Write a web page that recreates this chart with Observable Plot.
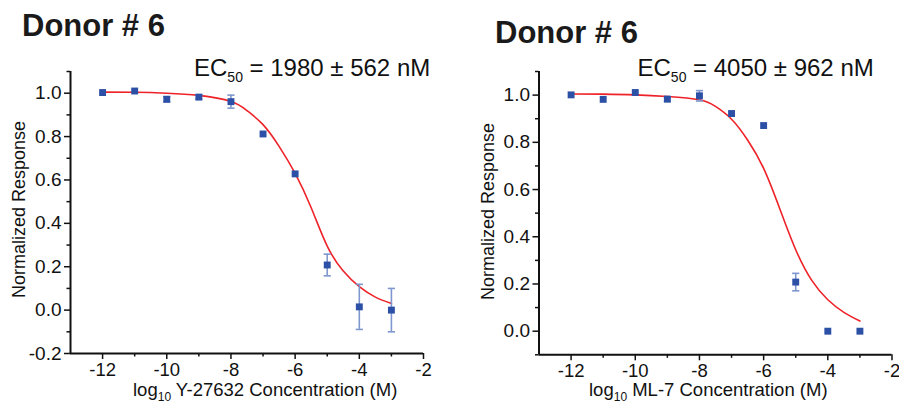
<!DOCTYPE html>
<html>
<head>
<meta charset="utf-8">
<script src="https://cdn.jsdelivr.net/npm/d3@7"></script>
<script src="https://cdn.jsdelivr.net/npm/@observablehq/plot@0.6"></script>
<style>
  html, body { margin: 0; padding: 0; background: #fff; }
  #wrap { position: relative; width: 899px; height: 403px; overflow: hidden; font-family: "Liberation Sans", Arial, Helvetica, sans-serif; color: #111; }
  .abs { position: absolute; white-space: nowrap; line-height: 1; }
  .title { font-weight: bold; font-size: 31px; color: #1a1a1a; }
  .ec { font-size: 24px; }
  .ec sub { font-size: 14px; vertical-align: -6px; line-height: 0; }
  .xl { font-size: 18.5px; }
  .xl sub { font-size: 12px; vertical-align: -5px; line-height: 0; }
  .yl { font-size: 18px; transform-origin: 0 0; transform: rotate(-90deg); }
  .panel { position: absolute; top: 0; }
</style>
</head>
<body>
<div id="wrap">
  <div class="panel" id="p1" style="left:0px"></div>
  <div class="panel" id="p2" style="left:450px"></div>
  <div class="abs title" style="left:22px; top:10px">Donor # 6</div>
  <div class="abs title" style="left:495px; top:16.5px">Donor # 6</div>
  <div class="abs ec" style="left:194px; top:55.7px">EC<sub>50</sub> = 1980 ± 562 nM</div>
  <div class="abs ec" style="left:637.5px; top:55.7px">EC<sub>50</sub> = 4050 ± 962 nM</div>
  <div class="abs xl" style="left:133px; top:381px">log<sub>10</sub> Y-27632 Concentration (M)</div>
  <div class="abs xl" style="left:589px; top:381px">log<sub>10</sub> ML-7 Concentration (M)</div>
  <div class="abs yl" style="left:10px; top:298px">Normalized Response</div>
  <div class="abs yl" style="left:478.5px; top:300px">Normalized Response</div>
</div>
<script>
// ---- data ----
const concLog = [-12, -11, -10, -9, -8, -7, -6, -5, -4, -3];
const y27632Mean = [1.003, 1.01, 0.972, 0.982, 0.961, 0.812, 0.628, 0.208, 0.015, 0.0];
const y27632Err  = [0, 0, 0.012, 0.01, 0.03, 0, 0, 0.05, 0.104, 0.1];
const ml7Mean = [1.001, 0.982, 1.011, 0.983, 0.997, 0.922, 0.871, 0.208, 0.0, 0.0];
const ml7Err  = [0, 0, 0, 0.01, 0.022, 0, 0, 0.037, 0, 0];

const fitLog = [-12, -11, -10, -9, -8, -7.5, -7, -6.5, -6, -5.5, -5, -4.5, -4, -3.5, -3];
const y27632Fit = [1.005, 1.004, 1.0, 0.99, 0.962, 0.92, 0.855, 0.755, 0.63, 0.472, 0.295, 0.18, 0.108, 0.06, 0.031];
const ml7Fit    = [1.005, 1.004, 1.001, 0.994, 0.98, 0.952, 0.898, 0.81, 0.69, 0.52, 0.345, 0.215, 0.133, 0.08, 0.043];

const xMajor = [-12, -10, -8, -6, -4, -2];
const xMinor = [-11, -9, -7, -5, -3];
const yMajorLeft = [-0.2, 0.0, 0.2, 0.4, 0.6, 0.8, 1.0];
const yMinorLeft = [-0.1, 0.1, 0.3, 0.5, 0.7, 0.9, 1.1];
const yMajorRight = [0.0, 0.2, 0.4, 0.6, 0.8, 1.0];
const yMinorRight = [-0.1, 0.1, 0.3, 0.5, 0.7, 0.9, 1.1];

const markerColor = "#2d50a7";
const errColor = "#7f97cf";
const fitColor = "#ee2229";

const capSymbol = {
  draw(context, size) {
    const r = Math.sqrt(size / Math.PI);
    context.moveTo(-r, 0);
    context.lineTo(r, 0);
  }
};

function panel({mean, err, fit, yDomain, yMajor, yMinor, width, marginLeft, marginRight, marginBottom}) {
  const pts = concLog.map((x, i) => ({x, y: mean[i], lo: mean[i] - err[i], hi: mean[i] + err[i], e: err[i]}));
  const bars = pts.filter(d => d.e > 0);
  const caps = bars.flatMap(d => [{x: d.x, y: d.lo}, {x: d.x, y: d.hi}]);
  const curve = fitLog.map((x, i) => ({x, y: fit[i]}));
  return Plot.plot({
    width, height: 403,
    marginLeft, marginRight, marginTop: 71, marginBottom,
    style: {fontFamily: "'Liberation Sans', Arial, Helvetica, sans-serif", fontSize: "18.5px", color: "#111", background: "transparent", overflow: "visible"},
    x: {domain: [-13, -2], axis: null, label: null},
    y: {domain: yDomain, axis: null, label: null},
    marks: [
      Plot.axisX({ticks: xMinor, tickSize: 3.5, strokeWidth: 1.5, tickFormat: () => "", anchor: "bottom", label: null}),
      Plot.axisX({ticks: xMajor, tickSize: 6, strokeWidth: 1.5, tickPadding: 3, tickFormat: d => String(d), anchor: "bottom", fontSize: 18.5, label: null}),
      Plot.axisY({ticks: yMinor, tickSize: 3.5, strokeWidth: 1.5, tickFormat: () => "", anchor: "left", label: null}),
      Plot.axisY({ticks: yMajor, tickSize: 6, strokeWidth: 1.5, tickPadding: 3, tickFormat: d => d.toFixed(1), anchor: "left", fontSize: 19, label: null}),
      Plot.ruleX([-13], {y1: yDomain[0], y2: yDomain[1], stroke: "#111", strokeWidth: 2}),
      Plot.ruleY([yDomain[0]], {x1: -13, x2: -2, stroke: "#111", strokeWidth: 2}),
      Plot.line(curve, {x: "x", y: "y", stroke: fitColor, strokeWidth: 1.6, curve: "natural"}),
      Plot.ruleX(bars, {x: "x", y1: "lo", y2: "hi", stroke: errColor, strokeWidth: 1.6}),
      Plot.dot(caps, {x: "x", y: "y", symbol: capSymbol, r: 3.6, stroke: errColor, strokeWidth: 1.6, fill: "none"}),
      Plot.dot(pts, {x: "x", y: "y", symbol: "square", r: 3.9, fill: markerColor, stroke: "none"})
    ]
  });
}

document.getElementById("p1").append(panel({
  mean: y27632Mean, err: y27632Err, fit: y27632Fit,
  yDomain: [-0.2, 1.1], yMajor: yMajorLeft, yMinor: yMinorLeft,
  width: 450, marginLeft: 70, marginRight: 27, marginBottom: 50
}));
document.getElementById("p2").append(panel({
  mean: ml7Mean, err: ml7Err, fit: ml7Fit,
  yDomain: [-0.1, 1.1], yMajor: yMajorRight, yMinor: yMinorRight,
  width: 449, marginLeft: 88.5, marginRight: 7.5, marginBottom: 48.7
}));
</script>
</body>
</html>
